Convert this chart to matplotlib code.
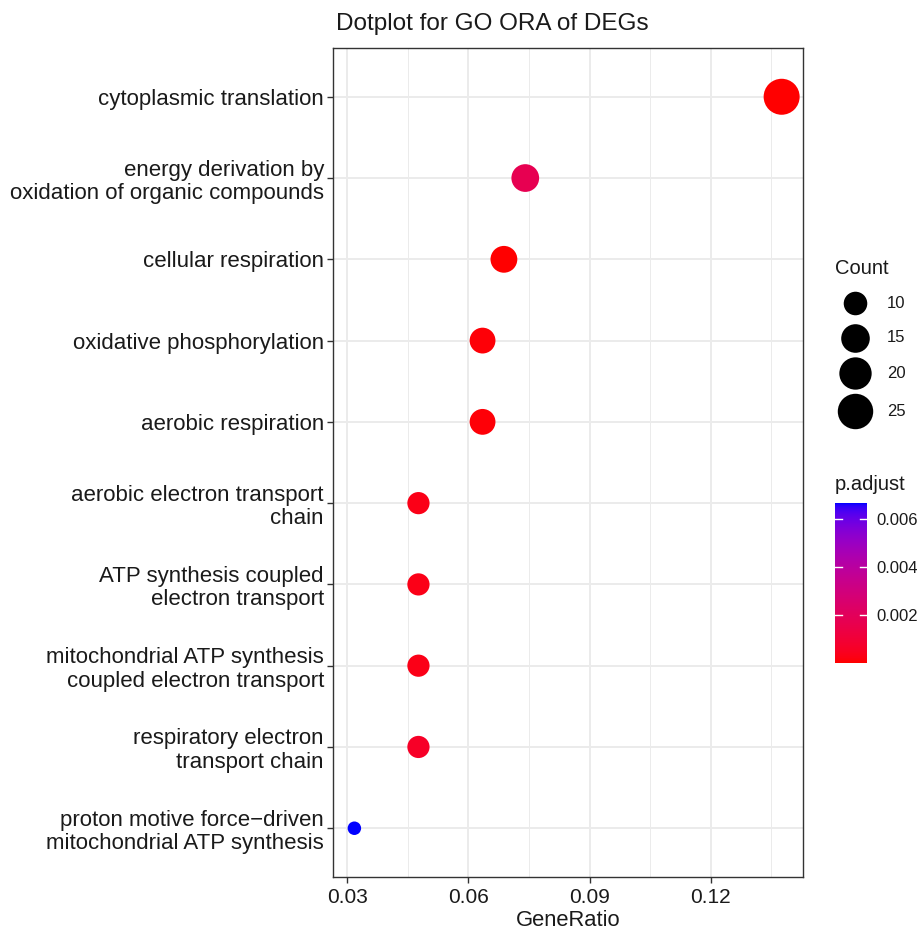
import numpy as np
import matplotlib
matplotlib.use("Agg")
import matplotlib.pyplot as plt
from matplotlib.colors import ListedColormap, Normalize

plt.rcParams['font.family'] = ['Liberation Sans', 'DejaVu Sans']

# GO terms (top to bottom), gene ratio, counts and adjusted p-values
terms = [
    "cytoplasmic translation",
    "energy derivation by\noxidation of organic compounds",
    "cellular respiration",
    "oxidative phosphorylation",
    "aerobic respiration",
    "aerobic electron transport\nchain",
    "ATP synthesis coupled\nelectron transport",
    "mitochondrial ATP synthesis\ncoupled electron transport",
    "respiratory electron\ntransport chain",
    "proton motive force\u2212driven\nmitochondrial ATP synthesis",
]
counts = [26, 14, 13, 12, 12, 9, 9, 9, 9, 6]
n_genes = 189
gene_ratio = [c / n_genes for c in counts]
p_adjust = [1e-8, 0.0017, 2e-5, 1e-4, 1e-4, 3e-4, 3e-4, 3e-4, 6e-4, 0.00667]

size_breaks = [10, 15, 20, 25]
cbar_ticks = [0.002, 0.004, 0.006]


# red -> blue gradient interpolated in Lab space (like ggplot)
def srgb_to_lab(rgb):
    rgb = np.asarray(rgb, float)
    lin = np.where(rgb <= 0.04045, rgb / 12.92, ((rgb + 0.055) / 1.055) ** 2.4)
    M = np.array([[0.4124, 0.3576, 0.1805], [0.2126, 0.7152, 0.0722], [0.0193, 0.1192, 0.9505]])
    xyz = M @ lin / np.array([0.95047, 1.0, 1.08883])
    f = np.where(xyz > 0.008856, np.cbrt(xyz), 7.787 * xyz + 16 / 116)
    return np.array([116 * f[1] - 16, 500 * (f[0] - f[1]), 200 * (f[1] - f[2])])


def lab_to_srgb(lab):
    L, a, b = lab
    fy = (L + 16) / 116
    fx = fy + a / 500
    fz = fy - b / 200
    f = np.array([fx, fy, fz])
    xyz = np.where(f ** 3 > 0.008856, f ** 3, (f - 16 / 116) / 7.787) * np.array([0.95047, 1.0, 1.08883])
    Minv = np.array([[3.2406, -1.5372, -0.4986], [-0.9689, 1.8758, 0.0415], [0.0557, -0.2040, 1.0570]])
    lin = np.clip(Minv @ xyz, 0, 1)
    rgb = np.where(lin <= 0.0031308, 12.92 * lin, 1.055 * lin ** (1 / 2.4) - 0.055)
    return np.clip(rgb, 0, 1)


lab_red = srgb_to_lab([1, 0, 0])
lab_blue = srgb_to_lab([0, 0, 1])
cmap = ListedColormap([lab_to_srgb(lab_red + t * (lab_blue - lab_red)) for t in np.linspace(0, 1, 256)])
norm = Normalize(vmin=min(p_adjust), vmax=max(p_adjust))

W, H = 922, 934
fig = plt.figure(figsize=(W / 100, H / 100), dpi=100)


def px_rect(l, t, r, b):
    return [l / W, 1 - b / H, (r - l) / W, (b - t) / H]


ax = fig.add_axes(px_rect(333, 48, 803, 877))

# ggplot size scale: diameter 3..8 mm, sqrt of rescaled value
cmin, cmax = min(counts), max(counts)
def size_pt2(c):
    d_mm = 3 + 5 * np.sqrt((c - cmin) / (cmax - cmin))
    d_px = d_mm * 4.5
    return (d_px * 72 / 100) ** 2


ypos = np.arange(len(terms))[::-1] + 1
ax.scatter(gene_ratio, ypos, s=[size_pt2(c) for c in counts],
           c=p_adjust, cmap=cmap, norm=norm, zorder=3, linewidths=0)

rng = max(gene_ratio) - min(gene_ratio)
ax.set_xlim(min(gene_ratio) - 0.05 * rng, max(gene_ratio) + 0.05 * rng)
ax.set_ylim(0.4, len(terms) + 0.6)
ax.set_xticks([0.03, 0.06, 0.09, 0.12])
ax.set_xticklabels(["0.03", "0.06", "0.09", "0.12"])
ax.set_xticks([0.045, 0.075, 0.105, 0.135], minor=True)
ax.set_yticks(ypos)
ax.set_yticklabels(terms, fontsize=16, color='#1a1a1a', linespacing=1.15)
ax.tick_params(axis='x', labelsize=15, labelcolor='#1a1a1a', length=4, width=1, color='#333333', pad=4)
ax.tick_params(axis='y', length=4, width=1, color='#333333', pad=2.5)
ax.tick_params(axis='x', which='minor', length=0)
ax.grid(True, which='major', color='#EBEBEB', linewidth=1.4, zorder=0)
ax.grid(True, which='minor', axis='x', color='#EBEBEB', linewidth=0.7, zorder=0)
ax.set_axisbelow(True)
for sp in ax.spines.values():
    sp.set_color('#333333')
    sp.set_linewidth(1.0)
ax.set_xlabel("GeneRatio", fontsize=15.8, labelpad=2, color='#1a1a1a')

# overlay in pixel coordinates for title and the Count legend
ov = fig.add_axes([0, 0, 1, 1], facecolor='none')
ov.set_xlim(0, W)
ov.set_ylim(H, 0)
ov.axis('off')
ov.text(336, 30, "Dotplot for GO ORA of DEGs", fontsize=17.5, va='baseline', ha='left', color='#1a1a1a')
ov.text(835, 268, "Count", fontsize=14.5, va='center', ha='left', color='#1a1a1a')
key_y = [303, 338, 373, 411]
for val, ky in zip(size_breaks, key_y):
    ov.scatter([855], [ky], s=size_pt2(val), color='black', linewidths=0)
    ov.text(887, ky, str(val), fontsize=12, va='center', ha='left', color='#1a1a1a')

ov.text(835, 485, "p.adjust", fontsize=14.5, va='center', ha='left', color='#1a1a1a')

# colorbar
cax = fig.add_axes(px_rect(835, 503, 867, 663))
grad = np.linspace(norm.vmin, norm.vmax, 256).reshape(-1, 1)
cax.imshow(grad, aspect='auto', cmap=cmap, norm=norm, origin='lower',
           extent=[0, 1, norm.vmin, norm.vmax])
cax.set_xlim(0, 1)
cax.set_ylim(norm.vmin, norm.vmax)
cax.set_xticks([])
cax.set_yticks(cbar_ticks)
cax.yaxis.tick_right()
cax.set_yticklabels([f"{t:.3f}" for t in cbar_ticks], fontsize=12, color='#1a1a1a')
cax.tick_params(axis='y', length=0, pad=7)
for t in cbar_ticks:
    cax.plot([0, 0.22], [t, t], color='white', lw=1)
    cax.plot([0.78, 1], [t, t], color='white', lw=1)
for sp in cax.spines.values():
    sp.set_visible(False)

fig.savefig("out.png", dpi=100, facecolor='white')
